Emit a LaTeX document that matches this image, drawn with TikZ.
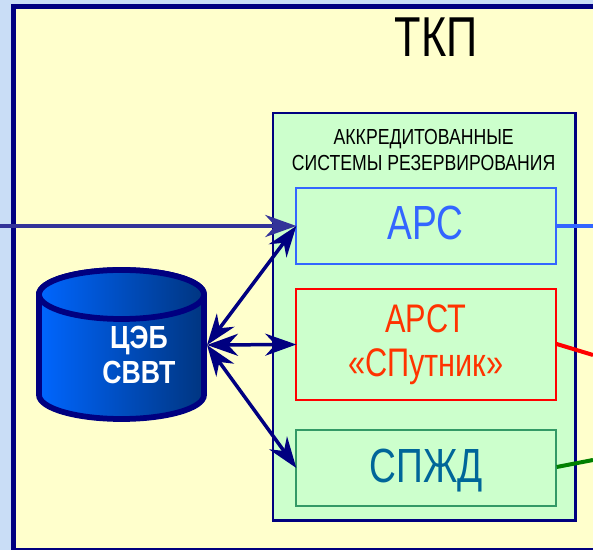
\documentclass[tikz,border=0pt]{standalone}
\usepackage{fontspec}
\setmainfont{Liberation Sans}
\usepackage{xcolor}
\usetikzlibrary{arrows.meta}
\definecolor{pagebg}{HTML}{C9DDF6}
\definecolor{framenavy}{HTML}{000080}
\definecolor{paleyellow}{HTML}{FFFFCC}
\definecolor{palegreen}{HTML}{CCFFCC}
\definecolor{arcblue}{HTML}{3366FF}
\definecolor{arstred}{HTML}{FF3300}
\definecolor{spzhdgreen}{HTML}{339966}
\definecolor{spzhdtext}{HTML}{006699}
\definecolor{inflow}{HTML}{333399}
\definecolor{dbleft}{HTML}{0066FF}
\definecolor{dbright}{HTML}{003580}
\tikzset{
  sysbox/.style={draw,line width=.04cm,fill=palegreen,outer sep=0pt,inner sep=0pt,minimum width=5.2cm},
  bigtext/.style={font=\fontsize{27.3}{28}\selectfont,xscale=.775,anchor=base},
  midtext/.style={font=\fontsize{22.7}{24}\selectfont,xscale=.77,anchor=base,text=arstred},
  smalltext/.style={font=\fontsize{12.4}{13}\selectfont,xscale=.81,anchor=base},
  dbtext/.style={font=\fontsize{18.2}{20}\selectfont\bfseries,xscale=.835,text=white,anchor=base},
  dbfill/.style={framenavy,line width=.115cm,left color=dbleft,right color=dbright},
  bothtips/.style={{Stealth[length=.62cm,width=.44cm,inset=.2cm]}-{Stealth[length=.62cm,width=.44cm,inset=.2cm]}},
  endtip/.style={-{Stealth[length=.62cm,width=.44cm,inset=.2cm]}}
}
\begin{document}
\begin{tikzpicture}[x=.02cm,y=-.02cm]
        \useasboundingbox (0,0) rectangle (593,550);
        \clip (0,0) rectangle (593,550);
        \fill[pagebg] (0,0) rectangle (593,550);
        \draw[framenavy,line width=.11cm,fill=paleyellow] (13.5,6.5) rectangle (640,550.5);
        \node[font=\fontsize{32}{33}\selectfont,xscale=.77,anchor=base] (title) at (436,57) {ТКП};

        \draw[framenavy,line width=.05cm,fill=palegreen] (273,113) rectangle (575.5,520.5);
        \node[smalltext] (headone) at (423.7,145) {АККРЕДИТОВАННЫЕ};
        \node[smalltext] (headtwo) at (423.7,171) {СИСТЕМЫ РЕЗЕРВИРОВАНИЯ};

        \node[sysbox,draw=arcblue,minimum height=1.52cm] (arc) at (426.3,226) {};
        \node[sysbox,draw=red,minimum height=2.22cm] (arst) at (426.3,344.5) {};
        \node[sysbox,draw=spzhdgreen,minimum height=1.52cm] (spzhd) at (426.3,468) {};
        \node[bigtext,text=arcblue] (arclabel) at (425.8,240) {АРС};
        \node[midtext] (arstlabel) at (425.7,333) {АРСТ};
        \node[midtext] (sputnik) at (425.7,377) {«СПутник»};
        \node[bigtext,text=spzhdtext] (spzhdlabel) at (426,483) {СПЖД};

        % cylinder
        \draw[dbfill]
          (39,294.5) -- (39,395) arc[start angle=180,end angle=360,x radius=82.5,y radius=-24]
          -- (204,294.5) arc[start angle=0,end angle=180,x radius=82.5,y radius=-24.5] -- cycle;
        \draw[dbfill] (121.5,294.5) ellipse[x radius=82.5,y radius=24.5];
        \node[dbtext] (dbone) at (139,349) {ЦЭБ};
        \node[dbtext] (dbtwo) at (139,384) {СВВТ};
        \coordinate (dbport) at (207,345);

        \coordinate (inleft) at (0,226);
        \coordinate (arcout) at (593,226);
        \coordinate (arstin) at (556.7,344);
        \coordinate (arstout) at (593,355);
        \coordinate (spzhdin) at (556.7,467);
        \coordinate (spzhdout) at (593,460);
        \draw[inflow,line width=.08cm,endtip] (inleft) -- (arc.west);
        \draw[arcblue,line width=.08cm] (arc.east) -- (arcout);
        \draw[red,line width=.08cm] (arstin) -- (arstout);
        \draw[green!50!black,line width=.08cm] (spzhdin) -- (spzhdout);

        \draw[framenavy,line width=.07cm,bothtips] (dbport) -- (arc.west);
        \draw[framenavy,line width=.07cm,bothtips] (dbport) -- (arst.west);
        \draw[framenavy,line width=.07cm,bothtips] (dbport) -- (spzhd.west);
      \end{tikzpicture}
\end{document}
